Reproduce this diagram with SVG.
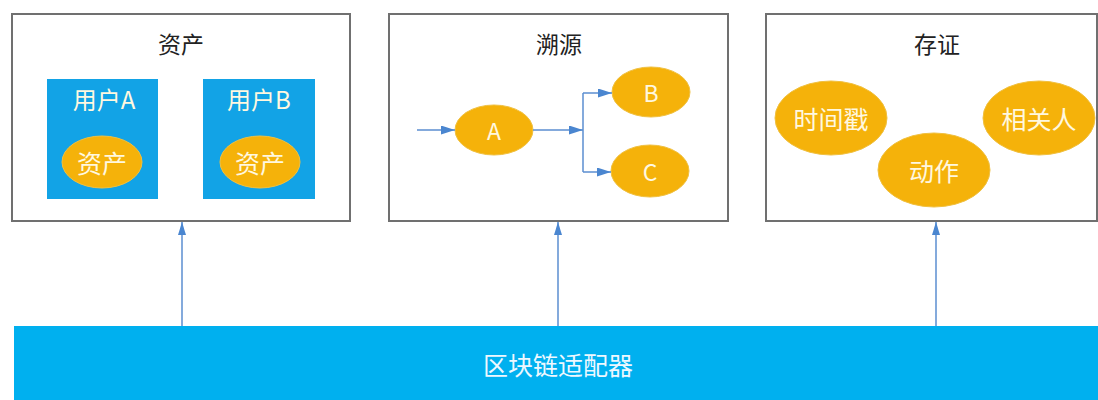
<svg xmlns="http://www.w3.org/2000/svg" width="1098" height="400" viewBox="0 0 1098 400">
<style>
.panel{fill:#fff;stroke:#707070;stroke-width:2}
.title{font-family:"Noto Sans CJK SC","Liberation Sans",sans-serif;font-size:23px;fill:#222;text-anchor:middle;dominant-baseline:central}
.user{fill:#12a3e6}
.ell{fill:#f5b20a;stroke:#f0c040;stroke-width:1}
.lt{font-family:"Noto Sans CJK SC","Liberation Sans",sans-serif;fill:#fff8e0;text-anchor:middle;dominant-baseline:central}
.conn{stroke:#5b8ed0;stroke-width:1.5;fill:none}
</style>
<defs>
<marker id="ah" viewBox="0 0 10 10" preserveAspectRatio="none" refX="10" refY="5" markerWidth="13" markerHeight="8" orient="auto" markerUnits="userSpaceOnUse">
<path d="M0,0 L10,5 L0,10 z" fill="#4a86d0"/>
</marker>
<marker id="ah2" viewBox="0 0 10 10" preserveAspectRatio="none" refX="10" refY="5" markerWidth="14" markerHeight="9" orient="auto" markerUnits="userSpaceOnUse">
<path d="M0,0 L10,5 L0,10 z" fill="#4a86d0"/>
</marker>
</defs>

<g id="bar">
<rect x="14" y="326" width="1084" height="74" fill="#00b0ef"/>
<text class="lt" x="558" y="364" font-size="25" style="fill:#eef8ff">区块链适配器</text>
</g>

<g id="panel-asset">
<rect class="panel" x="12" y="14" width="338" height="207"/>
<text class="title" x="181" y="43">资产</text>
</g>
<g id="userA">
<rect class="user" x="47" y="79" width="111" height="120"/>
<text class="lt" x="104" y="98" font-size="24">用户A</text>
</g>
<g id="assetA">
<ellipse class="ell" cx="102" cy="162" rx="40" ry="26"/>
<text class="lt" x="102" y="162" font-size="25">资产</text>
</g>
<g id="userB">
<rect class="user" x="203" y="79" width="112" height="120"/>
<text class="lt" x="259" y="98" font-size="24">用户B</text>
</g>
<g id="assetB">
<ellipse class="ell" cx="260" cy="162" rx="40" ry="26"/>
<text class="lt" x="260" y="162" font-size="25">资产</text>
</g>

<g id="panel-trace">
<rect class="panel" x="389" y="14" width="339" height="207"/>
<text class="title" x="559" y="43">溯源</text>
</g>
<g id="nodeA">
<ellipse class="ell" cx="494" cy="130" rx="39" ry="25"/>
<text class="lt" x="494" y="130" font-size="23">A</text>
</g>
<g id="nodeB">
<ellipse class="ell" cx="651" cy="92" rx="39" ry="25"/>
<text class="lt" x="651" y="92" font-size="23">B</text>
</g>
<g id="nodeC">
<ellipse class="ell" cx="650" cy="171" rx="39" ry="26"/>
<text class="lt" x="650" y="171" font-size="23">C</text>
</g>

<g id="panel-proof">
<rect class="panel" x="766" y="14" width="331" height="207"/>
<text class="title" x="937" y="43">存证</text>
</g>
<g id="timestamp">
<ellipse class="ell" cx="831" cy="118" rx="56" ry="37"/>
<text class="lt" x="831" y="118" font-size="25">时间戳</text>
</g>
<g id="related">
<ellipse class="ell" cx="1039" cy="118" rx="56" ry="37"/>
<text class="lt" x="1039" y="118" font-size="25">相关人</text>
</g>
<g id="action">
<ellipse class="ell" cx="934" cy="170" rx="56" ry="37"/>
<text class="lt" x="934" y="170" font-size="25">动作</text>
</g>

<g id="connectors">
<path class="conn" d="M417,130 H455" marker-end="url(#ah2)"/>
<path class="conn" d="M533,130 H583" marker-end="url(#ah2)"/>
<path class="conn" d="M583,93 V172"/>
<path class="conn" d="M583,93 H612" marker-end="url(#ah2)"/>
<path class="conn" d="M583,172 H611" marker-end="url(#ah2)"/>
<path class="conn" d="M182,326 V222" marker-end="url(#ah)"/>
<path class="conn" d="M558,326 V222" marker-end="url(#ah)"/>
<path class="conn" d="M936,326 V222" marker-end="url(#ah)"/>
</g>
</svg>
